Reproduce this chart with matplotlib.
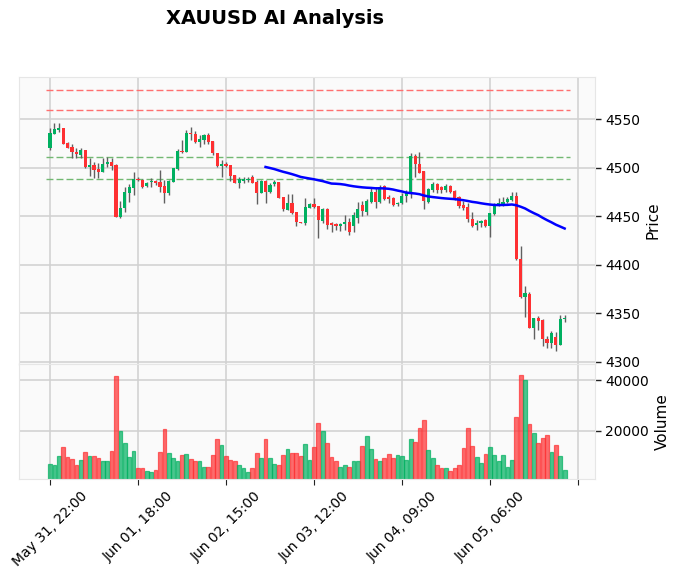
import numpy as np
import pandas as pd
import matplotlib
matplotlib.use('Agg')
import matplotlib.pyplot as plt

# ---------------- data (hourly XAUUSD candles) ----------------
opens = [4520.7, 4535.2, 4539.3, 4541.0, 4525.6, 4521.4, 4516.6, 4513.2, 4518.3, 4501.1,
         4502.9, 4498.7, 4496.0, 4503.9, 4505.9, 4502.9, 4449.6, 4458.2, 4474.3, 4479.5,
         4488.1, 4487.4, 4481.5, 4485.5, 4486.7, 4485.7, 4481.2, 4474.3, 4485.7, 4498.4,
         4517.3, 4516.6, 4535.5, 4534.8, 4526.9, 4528.7, 4533.8, 4527.6, 4514.9, 4502.2,
         4504.2, 4502.9, 4492.6, 4484.6, 4486.7, 4487.4, 4490.1, 4485.0, 4474.3, 4486.7,
         4475.4, 4483.0, 4485.0, 4470.2, 4456.4, 4463.3, 4454.1, 4443.8, 4442.7, 4458.9,
         4462.3, 4460.6, 4445.5, 4457.5, 4442.7, 4442.0, 4439.6, 4441.7, 4444.4, 4440.0,
         4448.0, 4462.0, 4454.7, 4465.0, 4475.4, 4465.0, 4481.2, 4470.2, 4468.5, 4462.6,
         4463.3, 4470.9, 4473.6, 4512.1, 4503.9, 4496.7, 4465.0, 4477.1, 4483.3, 4479.8,
         4477.1, 4481.2, 4476.0, 4470.2, 4461.6, 4459.9, 4446.8, 4441.0, 4442.7, 4446.1,
         4440.0, 4452.0, 4461.6, 4462.6, 4464.7, 4466.8, 4470.9, 4406.2, 4366.2, 4369.5,
         4335.1, 4345.0, 4343.0, 4323.4, 4318.9, 4325.8, 4317.6, 4344.5]
highs = [4540.7, 4545.8, 4545.8, 4541.0, 4526.9, 4524.2, 4520.7, 4520.7, 4518.3, 4509.7,
         4506.3, 4504.6, 4510.4, 4511.1, 4510.4, 4503.5, 4465.7, 4480.5, 4483.3, 4495.3,
         4490.8, 4488.1, 4485.7, 4489.1, 4487.4, 4497.7, 4487.4, 4487.4, 4499.4, 4519.0,
         4528.7, 4539.0, 4541.7, 4538.3, 4533.8, 4534.8, 4535.5, 4527.6, 4514.9, 4508.0,
         4506.3, 4502.9, 4492.6, 4490.1, 4490.1, 4490.8, 4492.6, 4487.4, 4487.4, 4487.4,
         4484.0, 4487.4, 4485.7, 4470.2, 4472.6, 4472.6, 4454.1, 4444.4, 4468.5, 4463.3,
         4468.5, 4460.6, 4458.2, 4458.2, 4444.4, 4442.7, 4442.7, 4451.3, 4447.9, 4454.0,
         4465.0, 4466.0, 4467.5, 4480.5, 4480.5, 4482.0, 4482.2, 4471.9, 4470.2, 4465.0,
         4473.6, 4477.1, 4514.9, 4514.2, 4516.3, 4496.7, 4478.8, 4485.0, 4484.0, 4481.2,
         4483.3, 4482.2, 4477.1, 4470.9, 4466.1, 4464.0, 4454.7, 4446.1, 4446.1, 4446.8,
         4453.7, 4464.0, 4468.5, 4469.5, 4469.5, 4475.4, 4475.4, 4419.8, 4378.0, 4371.5,
         4345.4, 4347.3, 4343.7, 4326.2, 4332.0, 4331.0, 4347.8, 4347.8]
lows = [4518.3, 4534.5, 4537.2, 4524.2, 4520.0, 4510.4, 4509.7, 4510.4, 4500.1, 4491.9,
        4489.8, 4489.8, 4496.0, 4501.1, 4497.7, 4448.9, 4448.5, 4454.7, 4464.4, 4471.9,
        4486.0, 4479.5, 4480.5, 4480.5, 4482.0, 4475.4, 4463.3, 4471.9, 4485.7, 4497.7,
        4514.9, 4516.6, 4528.7, 4525.2, 4521.8, 4524.5, 4524.5, 4513.2, 4501.1, 4490.8,
        4501.1, 4486.7, 4484.0, 4478.8, 4484.0, 4485.7, 4484.0, 4462.3, 4474.3, 4463.3,
        4473.6, 4481.5, 4468.5, 4455.4, 4456.4, 4452.0, 4440.3, 4442.7, 4441.0, 4458.2,
        4458.2, 4427.2, 4442.7, 4436.9, 4433.4, 4435.8, 4434.8, 4435.8, 4430.7, 4434.0,
        4443.4, 4450.0, 4451.3, 4463.3, 4458.2, 4463.3, 4466.8, 4463.3, 4460.6, 4461.0,
        4462.6, 4465.0, 4468.5, 4490.8, 4494.3, 4457.1, 4463.3, 4475.4, 4473.6, 4474.3,
        4475.4, 4474.3, 4466.8, 4458.2, 4456.4, 4444.4, 4439.2, 4435.8, 4439.3, 4438.6,
        4428.3, 4451.3, 4460.6, 4460.6, 4464.0, 4466.1, 4404.9, 4365.3, 4346.0, 4334.4,
        4323.2, 4333.0, 4316.5, 4314.3, 4314.6, 4310.6, 4316.8, 4341.3]
closes = [4535.5, 4540.0, 4541.0, 4524.9, 4520.7, 4515.9, 4514.5, 4518.3, 4501.1, 4502.9,
          4497.7, 4496.0, 4503.5, 4505.9, 4502.2, 4449.6, 4458.2, 4474.7, 4480.5, 4488.1,
          4487.0, 4480.5, 4483.9, 4486.5, 4484.0, 4480.5, 4474.3, 4486.4, 4499.4, 4517.3,
          4516.6, 4535.5, 4534.8, 4526.9, 4529.7, 4533.8, 4526.9, 4514.9, 4502.2, 4504.2,
          4502.2, 4491.9, 4484.6, 4488.1, 4488.1, 4488.1, 4484.6, 4474.3, 4486.7, 4475.4,
          4482.2, 4485.0, 4469.2, 4457.1, 4463.3, 4453.0, 4444.4, 4443.0, 4459.2, 4462.3,
          4459.9, 4446.2, 4457.5, 4441.0, 4441.0, 4439.6, 4442.0, 4444.4, 4434.1, 4451.0,
          4457.5, 4455.0, 4465.7, 4475.4, 4464.4, 4480.5, 4467.5, 4467.5, 4461.6, 4464.0,
          4470.9, 4474.3, 4512.1, 4503.9, 4495.0, 4466.1, 4478.1, 4483.3, 4477.1, 4477.1,
          4481.2, 4475.4, 4468.5, 4460.6, 4458.9, 4446.8, 4440.3, 4443.4, 4445.4, 4440.0,
          4453.0, 4461.6, 4464.0, 4465.0, 4468.1, 4470.9, 4405.9, 4366.2, 4370.5, 4335.1,
          4344.9, 4342.2, 4322.9, 4318.9, 4329.2, 4317.6, 4344.0, 4344.9]
volumes = [7190, 6410, 10330, 13860, 9940, 9150, 6410, 8760, 11900, 10330,
           10330, 9540, 7980, 7980, 12290, 41700, 20130, 15430, 9940, 12290,
           5230, 5620, 4050, 3660, 4450, 11900, 20910, 11500, 9540, 7980,
           10720, 11110, 9150, 8370, 8370, 6010, 6010, 10720, 17000, 14640,
           10330, 8760, 7980, 6410, 5230, 3660, 5230, 11500, 9540, 17000,
           9540, 6800, 6410, 10720, 13070, 11500, 11500, 10330, 15030, 8760,
           13730, 23140, 20130, 15290, 9810, 7980, 5880, 6670, 5880, 7980,
           8370, 14250, 18170, 13070, 9150, 8370, 9540, 11110, 9540, 10720,
           10330, 8760, 17000, 15820, 21310, 24440, 12680, 9540, 6410, 5620,
           5620, 4050, 5230, 6410, 13460, 21310, 14250, 9940, 7580, 11110,
           13860, 10720, 8370, 10720, 6010, 8760, 25490, 42090, 40130, 22880,
           19350, 15430, 17390, 18430, 11900, 14640, 10330, 4450]

red_levels = [4580, 4559.5]
green_levels = [4511, 4488]
ma_window = 50

tick_pos = [0, 20, 40, 60, 80, 100, 120]
tick_labels = ['May 31, 22:00', 'Jun 01, 18:00', 'Jun 02, 15:00', 'Jun 03, 12:00',
               'Jun 04, 09:00', 'Jun 05, 06:00', '']

# ---------------- plot ----------------
up_c, down_c, wick_c = '#00b060', '#fe3032', '#606060'
o = np.array(opens); h = np.array(highs); l = np.array(lows); c = np.array(closes)
x = np.arange(len(c))
is_up = c >= o
cols = np.where(is_up, up_c, down_c)

fig = plt.figure(figsize=(6.78, 5.79), dpi=100)
ax = fig.add_axes([19/678, 1-364/579, 576/678, 287/579])
axv = fig.add_axes([19/678, 1-479/579, 576/678, 115/579], sharex=ax)

for a in (ax, axv):
    a.set_facecolor('#fafafa')
    a.grid(True, color='#d0d0d0', linewidth=1.1)
    a.set_axisbelow(True)
    for s in a.spines.values():
        s.set_color('#e6e6e6')
    a.yaxis.tick_right()
    a.yaxis.set_label_position('right')
    a.tick_params(axis='y', length=4, width=1, color='#222222', labelsize=10)

# reference levels
for lv in red_levels:
    ax.hlines(lv, -1, 118.3, colors='#ff7070', linestyles=(0, (5, 2.2)), linewidth=1)
for lv in green_levels:
    ax.hlines(lv, -1, 118.3, colors='#72b872', linestyles=(0, (5, 2.2)), linewidth=1)

# candles
ax.vlines(x, l, h, color=wick_c, linewidth=1, zorder=2)
body = np.maximum(np.abs(c - o), 0.5)
ax.bar(x, body, bottom=np.minimum(o, c), width=0.72, color=cols, zorder=3)

# moving average
ma = pd.Series(c).rolling(ma_window).mean()
ax.plot(x, ma, color='blue', linewidth=1.8, zorder=4)

ax.set_ylim(4297.6, 4593.6)
ax.set_yticks([4300, 4350, 4400, 4450, 4500, 4550])
ax.set_ylabel('Price', fontsize=11)
ax.tick_params(axis='x', which='both', bottom=False, labelbottom=False)

# volume
vcols = np.where(is_up, '#00b060', '#fe3032')
axv.bar(x, volumes, width=0.85, color=vcols, alpha=0.7, edgecolor=vcols, linewidth=0.9)
axv.set_ylim(1100, 46300)
axv.set_yticks([20000, 40000])
axv.set_ylabel('Volume', fontsize=11)

axv.set_xlim(-7.05, 123.9)
axv.set_xticks(tick_pos)
axv.set_xticklabels(tick_labels, rotation=45, ha='center', fontsize=10)
axv.tick_params(axis='x', length=4, color='#222222')

fig.text(275/678, 1-19/579, 'XAUUSD AI Analysis', ha='center', va='center',
         fontsize=14, fontweight='bold')

fig.savefig('out.png', dpi=100)
